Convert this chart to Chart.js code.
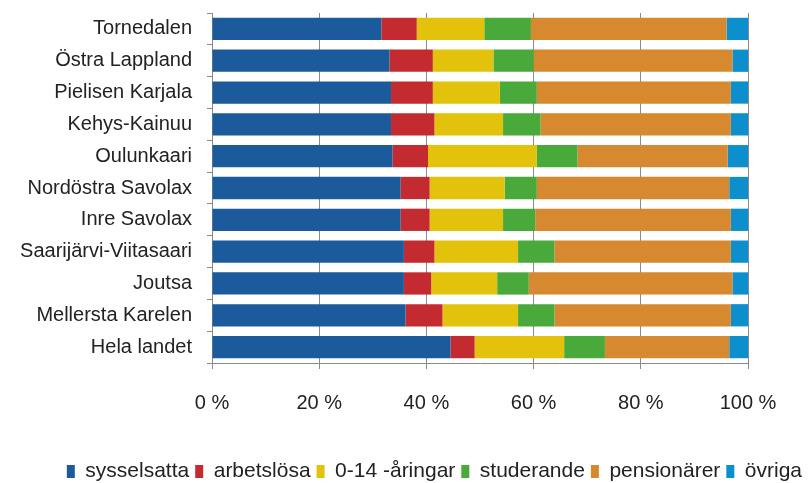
<!DOCTYPE html>
<html>
<head>
<meta charset="utf-8">
<script src="https://cdn.jsdelivr.net/npm/chart.js@4"></script>
<style>
  html, body { margin: 0; padding: 0; background: #fff; }
  #wrap { width: 808px; height: 483px; }
</style>
</head>
<body>
<div id="wrap"><canvas id="graf"></canvas></div>
<script>
// regioner, uppifrån och ned
const omraden = ['Tornedalen', 'Östra Lappland', 'Pielisen Karjala', 'Kehys-Kainuu', 'Oulunkaari',
  'Nordöstra Savolax', 'Inre Savolax', 'Saarijärvi-Viitasaari', 'Joutsa', 'Mellersta Karelen', 'Hela landet'];

// andelar i procent
const sysselsatta = [31.6, 33.1, 33.4, 33.4, 33.7, 35.2, 35.2, 35.8, 35.8, 36.1, 44.5];
const arbetslosa  = [6.6, 8.1, 7.8, 8.1, 6.6, 5.4, 5.4, 5.7, 5.1, 6.9, 4.5];
const aringar     = [12.6, 11.3, 12.5, 12.8, 20.3, 14.0, 13.7, 15.6, 12.3, 14.1, 16.7];
const studerande  = [8.7, 7.5, 6.9, 7.0, 7.6, 6.0, 6.0, 6.8, 5.9, 6.8, 7.6];
const pensionarer = [36.5, 37.1, 36.2, 35.5, 28.0, 35.9, 36.5, 32.9, 38.0, 32.9, 23.2];
const ovriga      = [4.0, 2.9, 3.2, 3.2, 3.8, 3.5, 3.2, 3.2, 2.9, 3.2, 3.5];

const xTicks = [0, 20, 40, 60, 80, 100];

const FONT = 'Liberation Sans';

const serier = [
  { label: 'sysselsatta',   data: sysselsatta, backgroundColor: '#1b5b9b' },
  { label: 'arbetslösa',    data: arbetslosa,  backgroundColor: '#c42b30' },
  { label: '0-14 -åringar', data: aringar,     backgroundColor: '#e2c20a' },
  { label: 'studerande',    data: studerande,  backgroundColor: '#4aa93b' },
  { label: 'pensionärer',   data: pensionarer, backgroundColor: '#d6892e' },
  { label: 'övriga',        data: ovriga,      backgroundColor: '#0d8fcd' }
].map(s => ({ ...s, borderWidth: 0, barPercentage: 0.7, categoryPercentage: 1 }));

new Chart(document.getElementById('graf'), {
  type: 'bar',
  data: { labels: omraden, datasets: serier },
  options: {
    indexAxis: 'y',
    responsive: true,
    maintainAspectRatio: false,
    animation: false,
    layout: { padding: { top: 13, left: 0, right: 0, bottom: -9 } },
    scales: {
      x: {
        stacked: true,
        min: 0,
        max: 100,
        afterBuildTicks: s => { s.ticks = xTicks.map(v => ({ value: v })); },
        afterFit: s => { s.height += 18; s.paddingRight = 60; },
        grid: { color: '#8a8a8a', lineWidth: 1, tickLength: 6 },
        border: { color: '#8a8a8a' },
        ticks: {
          callback: v => v + ' %',
          color: '#222',
          padding: 22,
          maxRotation: 0,
          font: { family: FONT, size: 20 }
        }
      },
      y: {
        stacked: true,
        afterFit: s => { s.width = 212; s.paddingTop = 0; s.paddingBottom = 0; },
        grid: { drawOnChartArea: false, color: '#8a8a8a', tickLength: 5 },
        border: { color: '#8a8a8a' },
        ticks: {
          color: '#222',
          padding: 15,
          font: { family: FONT, size: 20 }
        }
      }
    },
    plugins: {
      tooltip: { enabled: false },
      legend: {
        position: 'bottom',
        align: 'end',
        labels: {
          boxWidth: 8,
          boxHeight: 13,
          padding: 6,
          color: '#222',
          font: { family: FONT, size: 21 }
        }
      }
    }
  }
});
</script>
</body>
</html>
